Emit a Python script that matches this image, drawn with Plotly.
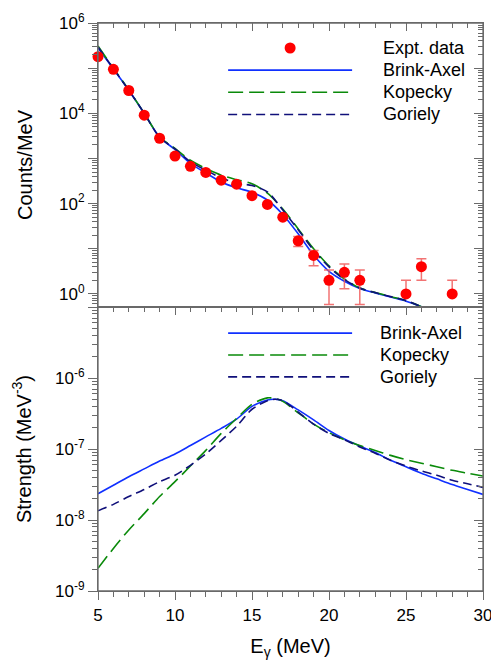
import plotly.graph_objects as go

# ---------------- data ----------------
# Top panel: experimental gamma spectrum
expt_energy = [5, 6, 7, 8, 9, 10, 11, 12, 13, 14, 15, 16, 17, 18, 19, 20, 21, 22, 25, 26, 28]
expt_counts = [1.8e5, 9.4e4, 3.2e4, 9.1e3, 2.8e3, 1.13e3, 670, 490, 330, 270, 150, 96, 50,
               15, 7.1, 2.0, 3.0, 2.0, 1.0, 4.0, 1.0]
expt_err_plus = [0, 0, 0, 0, 0, 0, 0, 0, 0, 0, 0, 0, 0, 3.7, 2.1, 1.4, 1.6, 1.4, 1.0, 2.0, 1.0]
expt_err_minus = [0, 0, 0, 0, 0, 0, 0, 0, 0, 0, 0, 0, 0, 3.8, 2.9, 1.42, 1.7, 1.42, 0, 2.0, 0]

# Top panel: calculated spectra
fit_energy = [5, 6, 7, 8, 9, 10, 11, 12, 13, 14, 15, 16, 17, 18, 19, 20, 21, 22, 23, 24, 25, 26]
counts_brink = [2.82e5, 9.55e4, 3.24e4, 1.0e4, 2.95e3, 1.58e3, 776, 479, 302, 224, 178, 120,
                57.5, 21.4, 7.24, 3.16, 1.91, 1.32, 1.05, 0.85, 0.69, 0.52]
counts_kopecky = [3.09e5, 1.0e5, 3.31e4, 1.0e4, 3.02e3, 1.66e3, 912, 603, 427, 339, 275, 170,
                  75.9, 27.5, 10.0, 4.17, 2.14, 1.35, 1.07, 0.87, 0.71, 0.52]
counts_goriely = [2.95e5, 9.77e4, 3.24e4, 1.0e4, 2.95e3, 1.62e3, 851, 550, 372, 282, 251, 182,
                  72.4, 26.3, 9.33, 3.98, 2.09, 1.35, 1.07, 0.87, 0.71, 0.52]

# Bottom panel: strength functions
str_energy = [5, 6, 7, 8, 9, 10, 11, 12, 13, 14, 15, 16, 16.5, 17, 18, 19, 20, 21, 22, 23, 24,
              25, 26, 27, 28, 29, 30]
str_brink = [2.34e-8, 3.09e-8, 4.07e-8, 5.25e-8, 6.76e-8, 8.51e-8, 1.12e-7, 1.48e-7, 1.95e-7,
             2.63e-7, 3.98e-7, 4.90e-7, 5.01e-7, 4.79e-7, 3.55e-7, 2.57e-7, 1.82e-7, 1.38e-7,
             1.10e-7, 8.91e-8, 6.92e-8, 5.62e-8, 4.57e-8, 3.80e-8, 3.16e-8, 2.69e-8, 2.29e-8]
str_kopecky = [2.09e-9, 3.98e-9, 7.24e-9, 1.23e-8, 2.14e-8, 3.47e-8, 5.75e-8, 9.55e-8, 1.66e-7,
               2.69e-7, 4.27e-7, 5.25e-7, 5.13e-7, 4.68e-7, 3.24e-7, 2.24e-7, 1.70e-7, 1.35e-7,
               1.12e-7, 9.55e-8, 8.13e-8, 7.08e-8, 6.31e-8, 5.62e-8, 5.01e-8, 4.57e-8, 4.17e-8]
str_goriely = [1.35e-8, 1.66e-8, 2.14e-8, 2.69e-8, 3.47e-8, 4.27e-8, 5.89e-8, 8.51e-8, 1.32e-7,
               2.09e-7, 3.63e-7, 4.79e-7, 5.01e-7, 4.79e-7, 3.31e-7, 2.24e-7, 1.66e-7, 1.35e-7,
               1.07e-7, 8.71e-8, 6.92e-8, 5.75e-8, 4.90e-8, 4.27e-8, 3.63e-8, 3.24e-8, 2.88e-8]

top_major = [1, 10, 100, 1e3, 1e4, 1e5, 1e6]
top_labels = ["10<sup>0</sup>", "", "10<sup>2</sup>", "", "10<sup>4</sup>", "", "10<sup>6</sup>"]
bot_major = [1e-9, 1e-8, 1e-7, 1e-6, 1e-5]
bot_labels = ["10<sup>-9</sup>", "10<sup>-8</sup>", "10<sup>-7</sup>", "10<sup>-6</sup>", ""]
x_ticks = [5, 10, 15, 20, 25, 30]
series_names = ["Brink-Axel", "Kopecky", "Goriely"]

# ---------------- styles ----------------
FONT = "Liberation Sans, Arial, sans-serif"
C_BLUE = "#1030ff"
C_GREEN = "#0a8a0a"
C_NAVY = "#10107a"
C_RED = "#ff0000"
C_AX = "#6a6a6a"
styles = [dict(color=C_BLUE, width=1.6, dash="solid"),
          dict(color=C_GREEN, width=1.6, dash="15px,6px"),
          dict(color=C_NAVY, width=1.6, dash="9px,5px")]

minor_top = [m * 10 ** k for k in range(-1, 6) for m in range(2, 10)]
minor_bot = [m * 10.0 ** k for k in range(-10, -5) for m in range(2, 10)]

fig = go.Figure()

# transparent copies on the frame subplots (top/right axes with inside ticks)
fig.add_trace(go.Scatter(x=fit_energy, y=counts_brink, mode="lines", opacity=0, line=dict(width=0.1),
                         xaxis="x3", yaxis="y3", showlegend=False, hoverinfo="skip"))
fig.add_trace(go.Scatter(x=str_energy, y=str_brink, mode="lines", opacity=0, line=dict(width=0.1),
                         xaxis="x4", yaxis="y4", showlegend=False, hoverinfo="skip"))

for name, ys, st in zip(series_names, [counts_brink, counts_kopecky, counts_goriely], styles):
    fig.add_trace(go.Scatter(x=fit_energy, y=ys, mode="lines", name=name,
                             line=dict(**st, shape="spline", smoothing=0.8),
                             xaxis="x", yaxis="y", showlegend=False))

fig.add_trace(go.Scatter(x=expt_energy, y=expt_counts, mode="markers", name="Expt. data",
                         marker=dict(color=C_RED, size=11),
                         error_y=dict(type="data", symmetric=False, array=expt_err_plus,
                                      arrayminus=expt_err_minus, color="rgba(240,90,90,0.85)",
                                      thickness=1.5, width=5),
                         cliponaxis=False, xaxis="x", yaxis="y", showlegend=False))

for name, ys, st in zip(series_names, [str_brink, str_kopecky, str_goriely], styles):
    fig.add_trace(go.Scatter(x=str_energy, y=ys, mode="lines", name=name,
                             line=dict(**st, shape="spline", smoothing=0.8),
                             xaxis="x2", yaxis="y2", showlegend=False))

tickfont = dict(family=FONT, size=17, color="black")
titlefont = dict(family=FONT, size=20, color="black")
XR = [5, 30]
TOPR = [-0.29, 6]
BOTR = [-9, -5]

def xax(ticks, **kw):
    d = dict(range=XR, showline=True, linecolor=C_AX, linewidth=1.2, showgrid=False, zeroline=False,
             tickmode="array", tickvals=x_ticks, ticks=ticks, ticklen=8, tickcolor=C_AX, tickwidth=1.2,
             minor=dict(dtick=1, ticks=ticks, ticklen=5, tickcolor=C_AX, tickwidth=1), tickfont=tickfont,
             automargin=False, ticklabeloverflow="allow", fixedrange=True)
    d.update(kw)
    return d

def yax(vals, labels, minor, rng, ticks, **kw):
    d = dict(type="log", range=rng, showline=True, linecolor=C_AX, linewidth=1.2, showgrid=False,
             zeroline=False, tickmode="array", tickvals=vals, ticktext=labels, ticks=ticks, ticklen=9,
             tickcolor=C_AX, tickwidth=1.2,
             minor=dict(tickmode="array", tickvals=minor, ticks=ticks, ticklen=5, tickcolor=C_AX, tickwidth=1),
             tickfont=tickfont, automargin=False, ticklabeloverflow="allow", fixedrange=True)
    d.update(kw)
    return d

shapes = []
annotations = []
# plot frames
for xr, yr in (("x domain", "y domain"), ("x2 domain", "y2 domain")):
    shapes.append(dict(type="rect", xref=xr, yref=yr, x0=0, x1=1, y0=0, y1=1, layer="above",
                       line=dict(color=C_AX, width=1.3), fillcolor="rgba(0,0,0,0)"))
LEGFONT = dict(family=FONT, size=18, color="black")
# legend top panel
ly_top = [0.834, 0.756, 0.678]
for st, yy, name in zip(styles, ly_top, series_names):
    shapes.append(dict(type="line", xref="x domain", yref="y domain", x0=0.338, x1=0.660, y0=yy, y1=yy,
                       line=dict(color=st["color"], width=st["width"], dash=st["dash"])))
    annotations.append(dict(xref="x domain", yref="y domain", x=0.735, y=yy, text=name, showarrow=False,
                            xanchor="left", yanchor="middle", font=LEGFONT))
shapes.append(dict(type="circle", xref="x domain", yref="y domain", x0=0.499 - 0.0143, x1=0.499 + 0.0143,
                   y0=0.912 - 0.0194, y1=0.912 + 0.0194, fillcolor=C_RED, line=dict(width=0)))
annotations.append(dict(xref="x domain", yref="y domain", x=0.735, y=0.912, text="Expt. data", showarrow=False,
                        xanchor="left", yanchor="middle", font=LEGFONT))
# legend bottom panel
ly_bot = [0.908, 0.831, 0.754]
for st, yy, name in zip(styles, ly_bot, series_names):
    shapes.append(dict(type="line", xref="x2 domain", yref="y2 domain", x0=0.338, x1=0.660, y0=yy, y1=yy,
                       line=dict(color=st["color"], width=st["width"], dash=st["dash"])))
    annotations.append(dict(xref="x2 domain", yref="y2 domain", x=0.727, y=yy, text=name, showarrow=False,
                            xanchor="left", yanchor="middle", font=LEGFONT))

fig.update_layout(
    width=491, height=661,
    margin=dict(l=98, r=8, t=23, b=70, autoexpand=False),
    paper_bgcolor="white", plot_bgcolor="rgba(0,0,0,0)",
    font=dict(family=FONT, color="black"),
    showlegend=False,
    xaxis=xax("", anchor="y", domain=[0, 1], showticklabels=False, mirror=True),
    yaxis=yax(top_major, top_labels, minor_top, TOPR, "outside", domain=[0.5, 1], anchor="x", mirror=True,
              title=dict(text="Counts/MeV", font=titlefont, standoff=20)),
    xaxis2=xax("outside", anchor="y2", domain=[0, 1], mirror=True,
               title=dict(text="E<sub>γ</sub> (MeV)", font=titlefont, standoff=15)),
    yaxis2=yax(bot_major, bot_labels, minor_bot, BOTR, "outside", domain=[0, 0.5], anchor="x2", mirror=True,
               title=dict(text="Strength (MeV<sup>-3</sup>)", font=titlefont, standoff=18)),
    # frame axes: top and right sides with inside ticks
    xaxis3=xax("inside", anchor="y3", domain=[0, 1], side="top", showticklabels=False),
    yaxis3=yax(top_major, top_labels, minor_top, TOPR, "inside", anchor="x3", domain=[0.5, 1],
               side="right", showticklabels=False),
    xaxis4=xax("inside", anchor="y4", domain=[0, 1], side="top", showticklabels=False),
    yaxis4=yax(bot_major, bot_labels, minor_bot, BOTR, "inside", anchor="x4", domain=[0, 0.5],
               side="right", showticklabels=False),
    shapes=shapes, annotations=annotations,
)

fig.write_html("out.html", config={"displayModeBar": False},
               post_script="document.body.style.margin='0';document.body.style.padding='0';")
